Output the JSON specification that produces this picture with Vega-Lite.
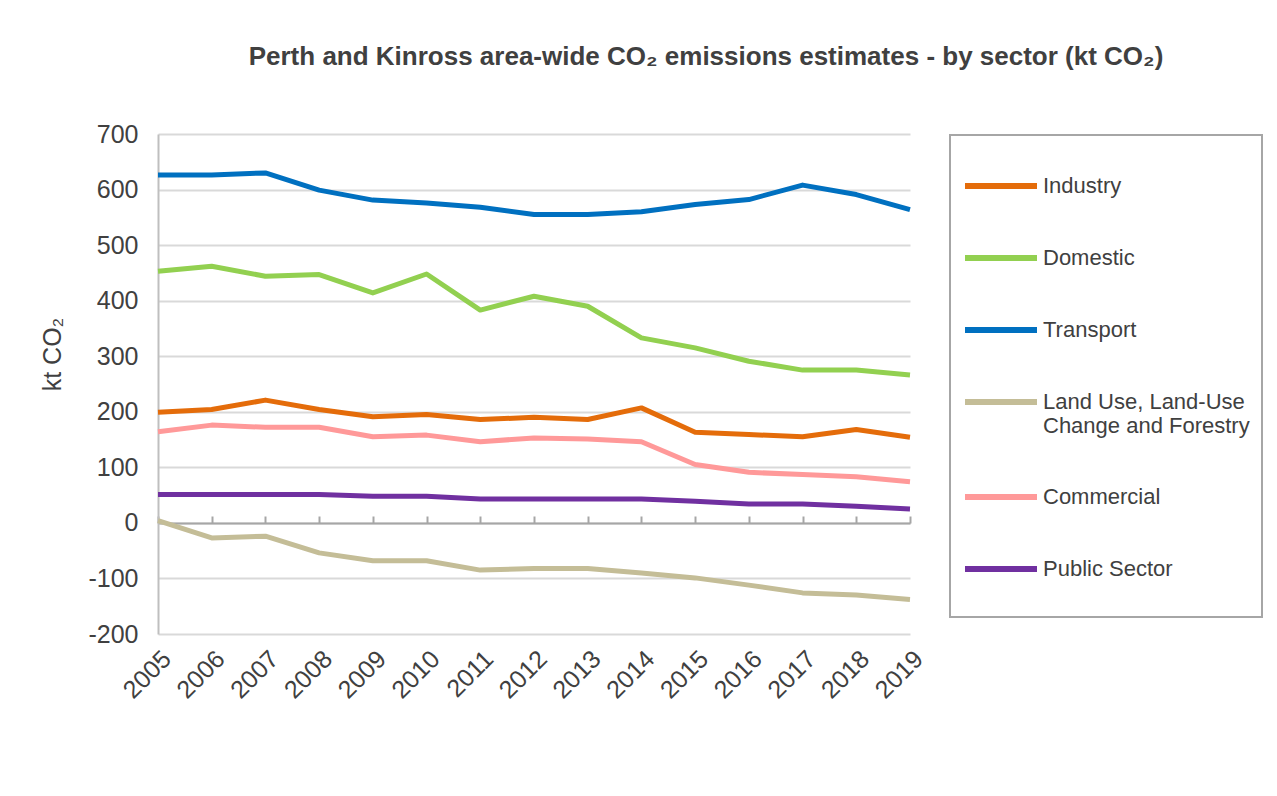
{
  "$schema": "https://vega.github.io/schema/vega-lite/v6.json",
  "width": 752,
  "height": 500,
  "autosize": {"type": "none"},
  "padding": {"left": 158, "top": 134, "right": 367, "bottom": 162},
  "background": "white",
  "title": {
    "text": "Perth and Kinross area-wide CO₂ emissions estimates - by sector (kt CO₂)",
    "anchor": "middle",
    "dx": 172,
    "offset": 31,
    "baseline": "alphabetic",
    "font": "Liberation Sans",
    "fontSize": 26,
    "fontWeight": "bold",
    "color": "#404040"
  },
  "config": {
    "view": {"stroke": null},
    "font": "Liberation Sans",
    "legend": {"strokeWidth": 2}
  },
  "data": {
    "values": [
      {"year": "2005", "sector": "Industry", "value": 199},
      {"year": "2006", "sector": "Industry", "value": 204},
      {"year": "2007", "sector": "Industry", "value": 221},
      {"year": "2008", "sector": "Industry", "value": 204},
      {"year": "2009", "sector": "Industry", "value": 191},
      {"year": "2010", "sector": "Industry", "value": 195},
      {"year": "2011", "sector": "Industry", "value": 186},
      {"year": "2012", "sector": "Industry", "value": 190},
      {"year": "2013", "sector": "Industry", "value": 186},
      {"year": "2014", "sector": "Industry", "value": 207},
      {"year": "2015", "sector": "Industry", "value": 163},
      {"year": "2016", "sector": "Industry", "value": 159},
      {"year": "2017", "sector": "Industry", "value": 155},
      {"year": "2018", "sector": "Industry", "value": 168},
      {"year": "2019", "sector": "Industry", "value": 154},
      {"year": "2005", "sector": "Domestic", "value": 453},
      {"year": "2006", "sector": "Domestic", "value": 462},
      {"year": "2007", "sector": "Domestic", "value": 444},
      {"year": "2008", "sector": "Domestic", "value": 447},
      {"year": "2009", "sector": "Domestic", "value": 414},
      {"year": "2010", "sector": "Domestic", "value": 448},
      {"year": "2011", "sector": "Domestic", "value": 383},
      {"year": "2012", "sector": "Domestic", "value": 408},
      {"year": "2013", "sector": "Domestic", "value": 390},
      {"year": "2014", "sector": "Domestic", "value": 333},
      {"year": "2015", "sector": "Domestic", "value": 315},
      {"year": "2016", "sector": "Domestic", "value": 291},
      {"year": "2017", "sector": "Domestic", "value": 275},
      {"year": "2018", "sector": "Domestic", "value": 275},
      {"year": "2019", "sector": "Domestic", "value": 266},
      {"year": "2005", "sector": "Transport", "value": 626},
      {"year": "2006", "sector": "Transport", "value": 626},
      {"year": "2007", "sector": "Transport", "value": 630},
      {"year": "2008", "sector": "Transport", "value": 599},
      {"year": "2009", "sector": "Transport", "value": 581},
      {"year": "2010", "sector": "Transport", "value": 576},
      {"year": "2011", "sector": "Transport", "value": 568},
      {"year": "2012", "sector": "Transport", "value": 555},
      {"year": "2013", "sector": "Transport", "value": 555},
      {"year": "2014", "sector": "Transport", "value": 560},
      {"year": "2015", "sector": "Transport", "value": 573},
      {"year": "2016", "sector": "Transport", "value": 582},
      {"year": "2017", "sector": "Transport", "value": 608},
      {"year": "2018", "sector": "Transport", "value": 591},
      {"year": "2019", "sector": "Transport", "value": 564},
      {"year": "2005", "sector": "Land Use, Land-Use Change and Forestry", "value": 4},
      {"year": "2006", "sector": "Land Use, Land-Use Change and Forestry", "value": -27},
      {"year": "2007", "sector": "Land Use, Land-Use Change and Forestry", "value": -24},
      {"year": "2008", "sector": "Land Use, Land-Use Change and Forestry", "value": -54},
      {"year": "2009", "sector": "Land Use, Land-Use Change and Forestry", "value": -68},
      {"year": "2010", "sector": "Land Use, Land-Use Change and Forestry", "value": -68},
      {"year": "2011", "sector": "Land Use, Land-Use Change and Forestry", "value": -85},
      {"year": "2012", "sector": "Land Use, Land-Use Change and Forestry", "value": -82},
      {"year": "2013", "sector": "Land Use, Land-Use Change and Forestry", "value": -82},
      {"year": "2014", "sector": "Land Use, Land-Use Change and Forestry", "value": -90},
      {"year": "2015", "sector": "Land Use, Land-Use Change and Forestry", "value": -99},
      {"year": "2016", "sector": "Land Use, Land-Use Change and Forestry", "value": -112},
      {"year": "2017", "sector": "Land Use, Land-Use Change and Forestry", "value": -126},
      {"year": "2018", "sector": "Land Use, Land-Use Change and Forestry", "value": -130},
      {"year": "2019", "sector": "Land Use, Land-Use Change and Forestry", "value": -138},
      {"year": "2005", "sector": "Commercial", "value": 164},
      {"year": "2006", "sector": "Commercial", "value": 176},
      {"year": "2007", "sector": "Commercial", "value": 172},
      {"year": "2008", "sector": "Commercial", "value": 172},
      {"year": "2009", "sector": "Commercial", "value": 155},
      {"year": "2010", "sector": "Commercial", "value": 158},
      {"year": "2011", "sector": "Commercial", "value": 146},
      {"year": "2012", "sector": "Commercial", "value": 153},
      {"year": "2013", "sector": "Commercial", "value": 151},
      {"year": "2014", "sector": "Commercial", "value": 146},
      {"year": "2015", "sector": "Commercial", "value": 105},
      {"year": "2016", "sector": "Commercial", "value": 91},
      {"year": "2017", "sector": "Commercial", "value": 87},
      {"year": "2018", "sector": "Commercial", "value": 83},
      {"year": "2019", "sector": "Commercial", "value": 74},
      {"year": "2005", "sector": "Public Sector", "value": 51},
      {"year": "2006", "sector": "Public Sector", "value": 51},
      {"year": "2007", "sector": "Public Sector", "value": 51},
      {"year": "2008", "sector": "Public Sector", "value": 51},
      {"year": "2009", "sector": "Public Sector", "value": 48},
      {"year": "2010", "sector": "Public Sector", "value": 48},
      {"year": "2011", "sector": "Public Sector", "value": 43},
      {"year": "2012", "sector": "Public Sector", "value": 43},
      {"year": "2013", "sector": "Public Sector", "value": 43},
      {"year": "2014", "sector": "Public Sector", "value": 43},
      {"year": "2015", "sector": "Public Sector", "value": 39},
      {"year": "2016", "sector": "Public Sector", "value": 34},
      {"year": "2017", "sector": "Public Sector", "value": 34},
      {"year": "2018", "sector": "Public Sector", "value": 30},
      {"year": "2019", "sector": "Public Sector", "value": 25}
    ]
  },
  "layer": [
    {
      "mark": {"type": "line", "strokeWidth": 5, "strokeJoin": "round", "strokeCap": "butt"},
      "encoding": {
        "x": {
          "field": "year",
          "type": "ordinal",
          "scale": {"type": "point", "padding": 0},
          "axis": {
            "title": null,
            "orient": "bottom",
            "domain": false,
            "ticks": false,
            "grid": false,
            "labelAngle": -45,
            "labelFontSize": 25,
            "labelColor": "#404040",
            "labelPadding": 12,
            "labelFont": "Liberation Sans"
          }
        },
        "y": {
          "field": "value",
          "type": "quantitative",
          "scale": {"domain": [-200, 700], "nice": false, "zero": false},
          "axis": {
            "title": "kt CO₂",
            "titleFontSize": 25,
            "titleFontWeight": "normal",
            "titleColor": "#404040",
            "titleFont": "Liberation Sans",
            "titleX": -93,
            "titleY": 220,
            "titleBaseline": "bottom",
            "values": [-200, -100, 0, 100, 200, 300, 400, 500, 600, 700],
            "labelExpr": "datum.value < 0 ? '-' + abs(datum.value) : '' + datum.value",
            "labelFontSize": 25,
            "labelColor": "#404040",
            "labelPadding": 20,
            "labelFont": "Liberation Sans",
            "ticks": false,
            "domain": true,
            "domainColor": "#bfbfbf",
            "domainWidth": 2,
            "grid": true,
            "gridColor": "#d9d9d9",
            "gridWidth": 2
          }
        },
        "color": {
          "field": "sector",
          "type": "nominal",
          "sort": ["Industry", "Domestic", "Transport", "Land Use, Land-Use Change and Forestry", "Commercial", "Public Sector"],
          "scale": {
            "domain": ["Industry", "Domestic", "Transport", "Land Use, Land-Use Change and Forestry", "Commercial", "Public Sector"],
            "range": ["#E46C0A", "#92D050", "#0070C0", "#C4BD97", "#FF9999", "#7030A0"]
          },
          "legend": {
            "title": " ",
            "titleOrient": "bottom",
            "titleFontSize": 1,
            "titlePadding": 23,
            "orient": "none",
            "legendX": 792,
            "legendY": 1,
            "padding": 12,
            "strokeColor": "#a6a6a6",
            "fillColor": "white",
            "symbolType": "stroke",
            "symbolSize": 5184,
            "symbolStrokeWidth": 6,
            "labelFontSize": 22,
            "labelFont": "Liberation Sans",
            "labelColor": "#404040",
            "labelOffset": 3,
            "labelLimit": 400,
            "rowPadding": 21,
            "labelExpr": "datum.label == 'Land Use, Land-Use Change and Forestry' ? ['Land Use, Land-Use', 'Change and Forestry'] : datum.label"
          }
        }
      }
    },
    {
      "mark": {"type": "rule", "opacity": 0},
      "encoding": {
        "x": {
          "field": "year",
          "type": "ordinal",
          "axis": {
            "orient": "top",
            "offset": -389,
            "title": null,
            "labels": false,
            "grid": false,
            "domain": true,
            "domainColor": "#a6a6a6",
            "domainWidth": 2,
            "ticks": true,
            "tickColor": "#a6a6a6",
            "tickWidth": 2,
            "tickSize": 7
          }
        }
      }
    }
  ],
  "resolve": {"axis": {"x": "independent"}}
}
